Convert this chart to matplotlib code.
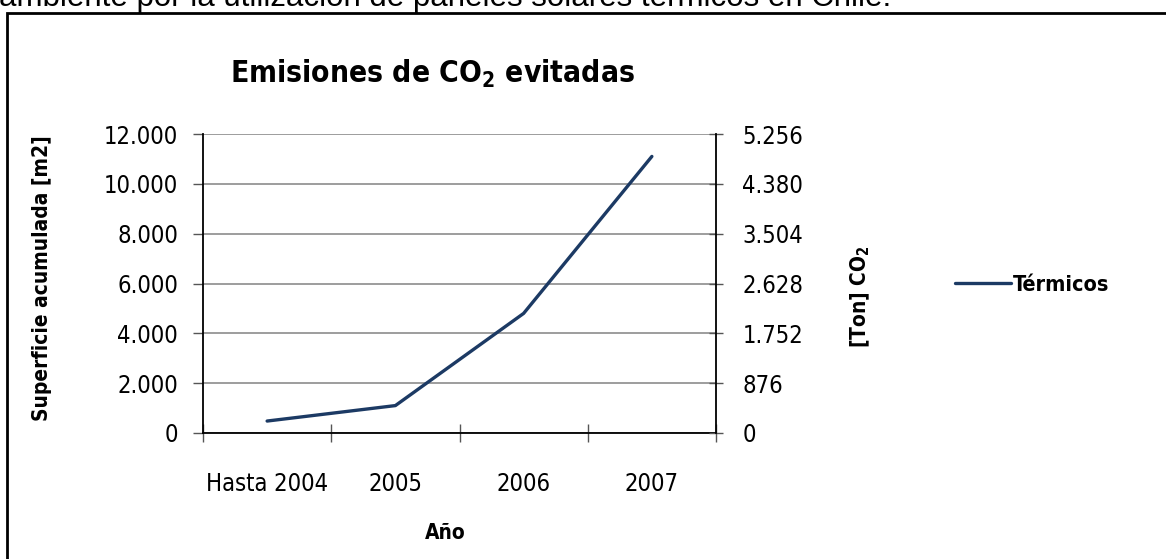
import matplotlib
matplotlib.use("Agg")
import matplotlib.pyplot as plt
import numpy as np
from matplotlib.patches import Rectangle
from matplotlib.ticker import FuncFormatter

# Data
categorias = ["Hasta 2004", "2005", "2006", "2007"]
superficie = [480, 1100, 4800, 11100]        # m2 acumulados
ticks_izq = [0, 2000, 4000, 6000, 8000, 10000, 12000]
ticks_der = [0, 876, 1752, 2628, 3504, 4380, 5256]

plt.rcParams["font.family"] = ["DejaVu Sans"]
plt.rcParams["font.stretch"] = "condensed"
plt.rcParams["mathtext.fontset"] = "custom"
plt.rcParams["mathtext.rm"] = "DejaVu Sans:bold"
plt.rcParams["mathtext.default"] = "rm"

W, H = 1166, 559
fig = plt.figure(figsize=(W / 100, H / 100), dpi=100)

def fx(px):
    return px / W

def fy(py):
    return 1 - py / H

# Frame round the chart (continues past right and bottom edges)
fig.patches.append(Rectangle((fx(6.5), fy(600)), 1.2, (600 - 12.5) / H,
                             transform=fig.transFigure, fill=False,
                             edgecolor="black", lw=2.0, clip_on=False))

# Cut text from the document above the chart
fig.text(fx(-1), fy(6), "ambiente por la utilización de paneles solares térmicos en Chile.",
         family=["Liberation Sans", "DejaVu Sans"], stretch="normal", fontsize=22.5,
         va="baseline", ha="left")

ax = fig.add_axes([fx(203), fy(433), fx(716) - fx(203), (433 - 134) / H])
x = np.arange(len(categorias))
line, = ax.plot(x, superficie, color="#1c3a64", lw=2.4, solid_capstyle="round",
                label="Térmicos")

ax.set_xlim(-0.5, len(categorias) - 0.5)
ax.set_ylim(0, 12000)
ax.set_yticks(ticks_izq)
ax.yaxis.set_major_formatter(FuncFormatter(lambda v, p: f"{int(v):,}".replace(",", ".")))
ax.grid(axis="y", color="#8c8c8c", lw=1.2)
ax.set_axisbelow(True)

ax.set_xticks(np.arange(-0.5, len(categorias), 1.0))
ax.set_xticklabels([])
ax.set_xticks(x, minor=True)
ax.set_xticklabels(categorias, minor=True)
ax.tick_params(axis="x", which="major", direction="inout", length=13, width=1, color="#555555")
ax.tick_params(axis="x", which="minor", length=0, pad=28, labelsize=17)
ax.tick_params(axis="y", direction="out", length=7, width=1, color="#555555", labelsize=17, pad=11)

for s in ["top", "right"]:
    ax.spines[s].set_visible(False)
ax.spines["left"].set_linewidth(1.3)
ax.spines["bottom"].set_linewidth(1.3)

ax2 = ax.twinx()
ax2.set_ylim(0, ticks_der[-1])
ax2.set_yticks(ticks_der)
ax2.yaxis.set_major_formatter(FuncFormatter(lambda v, p: f"{int(round(v)):,}".replace(",", ".")))
ax2.tick_params(axis="y", direction="inout", length=10, width=1, color="#555555", labelsize=17, pad=14)
for s in ["top", "left", "bottom"]:
    ax2.spines[s].set_visible(False)
ax2.spines["right"].set_linewidth(1.3)

# Titles and axis labels
fig.text(fx(433), fy(83), "Emisiones de CO$_2$ evitadas", fontsize=21.5, fontweight="bold",
         ha="center", va="baseline")
fig.text(fx(42), fy(278), "Superficie acumulada [m2]", fontsize=15, fontweight="bold",
         rotation=90, ha="center", va="center")
fig.text(fx(860), fy(297), "[Ton] CO$_2$", fontsize=15, fontweight="bold",
         rotation=90, ha="center", va="center")
fig.text(fx(445), fy(533), "Año", fontsize=15, fontweight="bold", ha="center", va="center")

fig.legend(handles=[line], loc="center left", bbox_to_anchor=(fx(955), fy(285)),
           frameon=False, handlelength=2.6, handletextpad=0.1, borderpad=0,
           borderaxespad=0, prop={"family": "DejaVu Sans", "stretch": "condensed",
                                  "weight": "bold", "size": 15.5})

fig.savefig("out.png", dpi=100)
